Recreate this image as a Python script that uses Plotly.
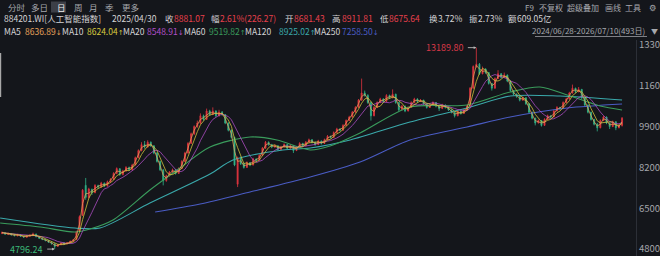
import plotly.graph_objects as go
import pandas as pd

# ---------------- data ----------------
opens = [5450,5470,5410,5440,5400,5350,5390,5320,5290,5330,
         5370,5420,5300,5240,5190,5150,5070,5010,4910,4980,
         5050,5010,5060,5120,5190,5540,6200,7450,6950,7280,
         7150,7440,7380,7540,7420,7600,7700,7950,8140,7900,
         8050,8200,8100,8300,8600,8900,9150,9050,9250,9100,
         8800,8450,8100,7650,7850,8000,8100,7950,8150,8450,
         8800,9200,9600,9900,10050,10350,10200,10550,10400,10550,
         10350,10500,10400,10050,9750,9450,7500,8600,8350,8200,
         8400,8300,8550,8500,8700,9000,9250,9150,9050,9100,
         8950,9050,9150,9000,9100,8900,9050,9200,9100,9250,
         9350,9250,9150,9300,9200,9350,9500,9450,9650,9800,
         9750,9950,10150,10300,10500,10700,11000,11300,11200,10900,
         10350,10700,10900,11050,10950,11200,11100,11250,10900,10600,
         10750,10550,10700,10900,11050,10950,11000,10850,10700,10800,
         10900,10750,10650,10800,10700,10600,10500,10350,10550,10450,
         10600,10750,11500,12400,12500,12100,12300,12150,11700,11500,
         11900,12100,11950,12050,11800,11400,11250,11150,11000,11100,
         10850,10500,10250,10050,10150,9950,10200,10350,10300,10550,
         10700,10650,10900,11050,11300,11500,11350,11450,11100,10800,
         10500,10200,10000,9850,10150,10300,10050,9900,10100,9850,
         9950]
highs = [5530,5490,5480,5460,5420,5430,5410,5350,5370,5410,
         5480,5440,5320,5280,5230,5170,5100,5040,5010,5070,
         5080,5090,5150,5220,5560,6200,7300,7760,7350,7320,
         7500,7480,7600,7570,7650,7750,8000,8200,8170,8100,
         8250,8230,8350,8650,8950,9250,9300,9330,9280,9120,
         8830,8480,8120,7900,8050,8150,8120,8200,8500,8850,
         9250,9650,9950,10150,10450,10400,10650,10600,10700,10580,
         10600,10550,10420,10080,9780,9480,8650,8650,8380,8450,
         8420,8600,8580,8750,9050,9300,9280,9180,9150,9120,
         9100,9200,9170,9150,9120,9080,9250,9220,9300,9400,
         9380,9270,9350,9320,9400,9550,9520,9700,9850,9830,
         10000,10200,10350,10550,10750,11050,11900,11400,11250,10950,
         10750,10950,11100,11080,11250,11230,11450,11270,10920,10800,
         10780,10750,10950,11100,11080,11050,11020,10870,10850,10950,
         10920,10770,10850,10820,10720,10620,10520,10600,10570,10650,
         10800,11550,12450,13189.80,12550,12400,12330,12170,11720,11950,
         12250,12130,12150,12070,11820,11420,11280,11170,11150,11120,
         10870,10520,10270,10200,10170,10250,10400,10370,10600,10750,
         10720,10950,11100,11350,11650,11520,11550,11470,11120,10820,
         10520,10220,10050,10200,10350,10320,10070,10150,10120,10000,
         10300]
lows = [5420,5390,5380,5360,5320,5330,5300,5260,5270,5310,
        5350,5290,5220,5170,5120,5050,4980,4796.24,4890,4950,
        4980,4990,5040,5100,5180,5520,6180,6850,6900,7050,
        7120,7300,7350,7380,7400,7560,7680,7920,7850,7870,
        8020,8050,8080,8280,8580,8870,8980,9020,9050,8750,
        8400,8050,7450,7600,7820,7950,7900,7930,8130,8430,
        8780,9180,9550,9850,10000,10150,10180,10350,10380,10300,
        10320,10350,10000,9700,9400,8250,7380,8300,8150,8180,
        8250,8280,8450,8480,8680,8980,9100,9000,9020,8900,
        8930,9030,8960,8980,8800,8880,9030,9060,9080,9230,
        9200,9100,9130,9150,9180,9330,9400,9430,9630,9700,
        9730,9930,10130,10280,10480,10680,10980,11150,10850,10150,
        10330,10680,10880,10900,10930,11050,11080,10850,10550,10580,
        10500,10530,10680,10880,10900,10930,10800,10650,10680,10780,
        10700,10550,10630,10650,10550,10450,10280,10330,10400,10430,
        10580,10730,11480,12350,12050,12080,12100,11650,11400,11480,
        11880,11900,11930,11750,11350,11200,11100,10950,10980,10800,
        10450,10200,9950,10030,9900,9930,10180,10250,10280,10530,
        10600,10630,10880,11030,11280,11300,11330,11050,10750,10450,
        10150,9950,9700,9830,10130,10000,9800,9880,9750,9830,
        9900]
closes = [5480,5420,5450,5390,5360,5400,5330,5300,5340,5380,
          5420,5310,5250,5200,5150,5080,5020,4900,4980,5040,
          5010,5060,5120,5180,5520,6150,7250,6950,7300,7150,
          7450,7380,7550,7420,7600,7700,7950,8150,7900,8050,
          8200,8100,8300,8600,8900,9150,9050,9250,9100,8800,
          8450,8100,7650,7850,8000,8100,7950,8150,8450,8800,
          9200,9600,9900,10050,10350,10200,10550,10400,10550,10350,
          10500,10400,10050,9750,9450,8300,8600,8350,8200,8400,
          8300,8550,8500,8700,9000,9250,9150,9050,9100,8950,
          9050,9150,9000,9100,8900,9050,9200,9100,9250,9350,
          9250,9150,9300,9200,9350,9500,9450,9650,9800,9750,
          9950,10150,10300,10500,10700,11000,11300,11200,10900,10350,
          10700,10900,11050,10950,11200,11100,11250,10900,10600,10750,
          10550,10700,10900,11050,10950,11000,10850,10700,10800,10900,
          10750,10650,10800,10700,10600,10500,10350,10550,10450,10600,
          10750,11500,12400,12500,12100,12300,12150,11700,11500,11900,
          12100,11950,12050,11800,11400,11250,11150,11000,11100,10850,
          10500,10250,10050,10150,9950,10200,10350,10300,10550,10700,
          10650,10900,11050,11300,11500,11350,11450,11100,10800,10500,
          10200,10000,9850,10150,10300,10050,9900,10100,9850,9950,
          10250]

# long moving averages (they include history before the window)
ma60_x = [-0.6, 12.3, 23.5, 28.4, 35.8, 47.7, 57.4, 67.1, 80, 88.7, 99.4, 105.8,
          115.5, 131.6, 150, 163.9, 173.5, 182.3, 192.9, 200]
ma60_y = [5883, 5716, 5508, 5633, 6008, 7258, 8175, 9050, 9467, 9342, 8925, 9092,
          9633, 10717, 10800, 11342, 11550, 11217, 10758, 10592]
ma120_x = [-0.6, 23.5, 31.6, 47.7, 67.1, 74.5, 90.6, 99.4, 112.3, 131.6, 150, 163.9, 180, 200]
ma120_y = [6092, 5675, 5675, 6716, 7925, 8508, 8925, 9008, 9342, 10092, 10675, 11175, 11175, 11008]
ma250_x = [49.4, 63.9, 80, 99.4, 115.5, 131.6, 150, 163.9, 182.3, 200]
ma250_y = [6341, 6675, 7175, 7800, 8425, 9342, 9883, 10300, 10675, 10842]

y_ticks = [4800, 6500, 8200, 9900, 11600, 13300]
peak_value = 13189.80
peak_idx = 153
low_value = 4796.24
low_idx = 17

# ---------------- styling ----------------
BG = "#14161b"
UP = "#e0343f"
DN = "#30b489"
FONT = "Noto Sans CJK SC, DejaVu Sans, sans-serif"
MA_COL = {"MA5": "#e4a05a", "MA10": "#d6c83e", "MA20": "#b24fc8",
          "MA60": "#3a9c5c", "MA120": "#3aa9ab", "MA250": "#4a5cc4"}

x_idx = list(range(len(closes)))
cs = pd.Series(closes, dtype=float)
# each drawn candle stands for ~2.5 trading days, so the short windows are scaled
ma5 = cs.rolling(2, min_periods=1).mean()
ma10 = cs.rolling(4, min_periods=1).mean()
ma20 = cs.rolling(8, min_periods=1).mean()

fig = go.Figure()
for xs, ys, name in [(ma250_x, ma250_y, "MA250"), (ma120_x, ma120_y, "MA120"),
                     (ma60_x, ma60_y, "MA60")]:
    fig.add_trace(go.Scatter(x=xs, y=ys, mode="lines",
                             line=dict(color=MA_COL[name], width=1.1, shape="spline", smoothing=0.8),
                             hoverinfo="skip"))
fig.add_trace(go.Candlestick(x=x_idx, open=opens, high=highs, low=lows, close=closes,
                             increasing=dict(line=dict(color=UP, width=0.8), fillcolor=UP),
                             decreasing=dict(line=dict(color=DN, width=0.8), fillcolor=DN),
                             whiskerwidth=0, hoverinfo="skip"))
for ys, name in [(ma20, "MA20"), (ma10, "MA10"), (ma5, "MA5")]:
    fig.add_trace(go.Scatter(x=x_idx, y=ys, mode="lines", line=dict(color=MA_COL[name], width=0.9),
                             hoverinfo="skip", opacity=0.85))

PL, PR, PT, PB = 0, 636, 40, 256
def px(x):
    return (x - PL) / (PR - PL)
def py(y):
    return (PB - y) / (PB - PT)

ann = []
def txt(s, x, y, color, size=9, anchor="left"):
    ann.append(dict(text=s, x=px(x), y=py(y), xref="paper", yref="paper", xanchor=anchor,
                    yanchor="middle", showarrow=False,
                    font=dict(family=FONT, size=size, color=color)))

def arrow(ch):
    return f"<span style='font-family:DejaVu Sans;font-size:7px'>{ch}</span>"

W_ = "#d4d4d6"
G_ = "#a6a8ad"
R_ = "#e8404c"
# row 1 tabs
for s, x in [("分时", 6), ("多日", 29), ("周", 72), ("月", 87), ("季", 103), ("更多", 120)]:
    txt(s, x, 7, G_, 8.5)
txt("日", 54.5, 7, "#f0f0f0", 8.5)
for s, x in [("F9", 523), ("不复权", 537), ("超级叠加", 565), ("画线", 603), ("工具", 623)]:
    txt(s, x, 7, G_, 8)
txt("⚙", 647, 7, G_, 8.5)
# row 2 quote line
for s, x, c in [("884201.WI[人工智能指数]", 2, W_), ("2025/04/30", 110, W_),
                ("收", 163, W_), ("8881.07", 172, R_), ("幅", 209, W_), ("2.61%(226.27)", 218, R_),
                ("开", 283, W_), ("8681.43", 292, R_), ("高", 330, W_), ("8911.81", 340, R_),
                ("低", 378, W_), ("8675.64", 387, R_), ("换", 427, W_), ("3.72%", 436, W_),
                ("振", 467, W_), ("2.73%", 476, W_), ("额", 506, W_), ("609.05亿", 515, W_)]:
    txt(s, x, 18, c, 8.5)
# row 3 MA values
for s, x, c in [("MA5", 2, W_), ("8636.89" + arrow("↓"), 23, MA_COL["MA5"]),
                ("MA10", 60, W_), ("8624.04" + arrow("↑"), 85, MA_COL["MA10"]),
                ("MA20", 121, W_), ("8548.91" + arrow("↓"), 145, MA_COL["MA20"]),
                ("MA60", 182, W_), ("9519.82" + arrow("↑"), 207, MA_COL["MA60"]),
                ("MA120", 243, W_), ("8925.02" + arrow("↑"), 277, MA_COL["MA120"]),
                ("MA250", 312, W_), ("7258.50" + arrow("↓"), 340, MA_COL["MA250"])]:
    txt(s, x, 31, c, 8.5)
txt("2024/06/28-2026/07/10(493日)", 647, 31, G_, 8, anchor="right")
txt("▼", 649, 31, G_, 7)

# extreme value labels
txt(f"{peak_value:.2f}", 465, 47, "#d83848", 9, anchor="right")
ann.append(dict(x=peak_idx, y=peak_value, xref="x", yref="y", ax=-10, ay=0, text="",
                showarrow=True, arrowhead=2, arrowsize=0.6, arrowwidth=0.9, arrowcolor="#b8b8b8"))
txt(f"{low_value:.2f}", 44, 249, "#3cb878", 9, anchor="right")
ann.append(dict(x=low_idx, y=low_value, xref="x", yref="y", ax=-9, ay=0, text="",
                showarrow=True, arrowhead=2, arrowsize=0.6, arrowwidth=0.9, arrowcolor="#b8b8b8"))

shapes = [
    dict(type="rect", xref="paper", yref="paper", x0=px(51), x1=px(66), y0=py(12.5), y1=py(1.5),
         fillcolor="#3c3f47", line=dict(width=0), layer="below"),
    dict(type="line", xref="paper", yref="paper", x0=px(535), x1=px(647), y0=py(36.5), y1=py(36.5),
         line=dict(color="#9a9ca2", width=0.8)),
    dict(type="rect", xref="paper", yref="paper", x0=px(0), x1=px(1.2), y0=py(97), y1=py(53),
         fillcolor="#a8a8a8", line=dict(width=0)),
]

fig.update_layout(
    width=660, height=256,
    margin=dict(l=PL, r=660 - PR, t=PT, b=0, autoexpand=False),
    paper_bgcolor=BG, plot_bgcolor=BG,
    showlegend=False,
    boxgap=0.55,
    annotations=ann, shapes=shapes,
    xaxis=dict(range=[-0.645, 204.5], visible=False, rangeslider=dict(visible=False),
               showgrid=False, zeroline=False),
    yaxis=dict(side="right", range=[4508, 13508], tickvals=y_ticks,
               ticktext=[str(v) for v in y_ticks], showgrid=False, zeroline=False,
               showline=True, linecolor="#2c2f37", linewidth=1, ticks="",
               tickfont=dict(family=FONT, size=9.5, color="#a4a6ab"), automargin=False),
)

fig.write_html("out.html")
